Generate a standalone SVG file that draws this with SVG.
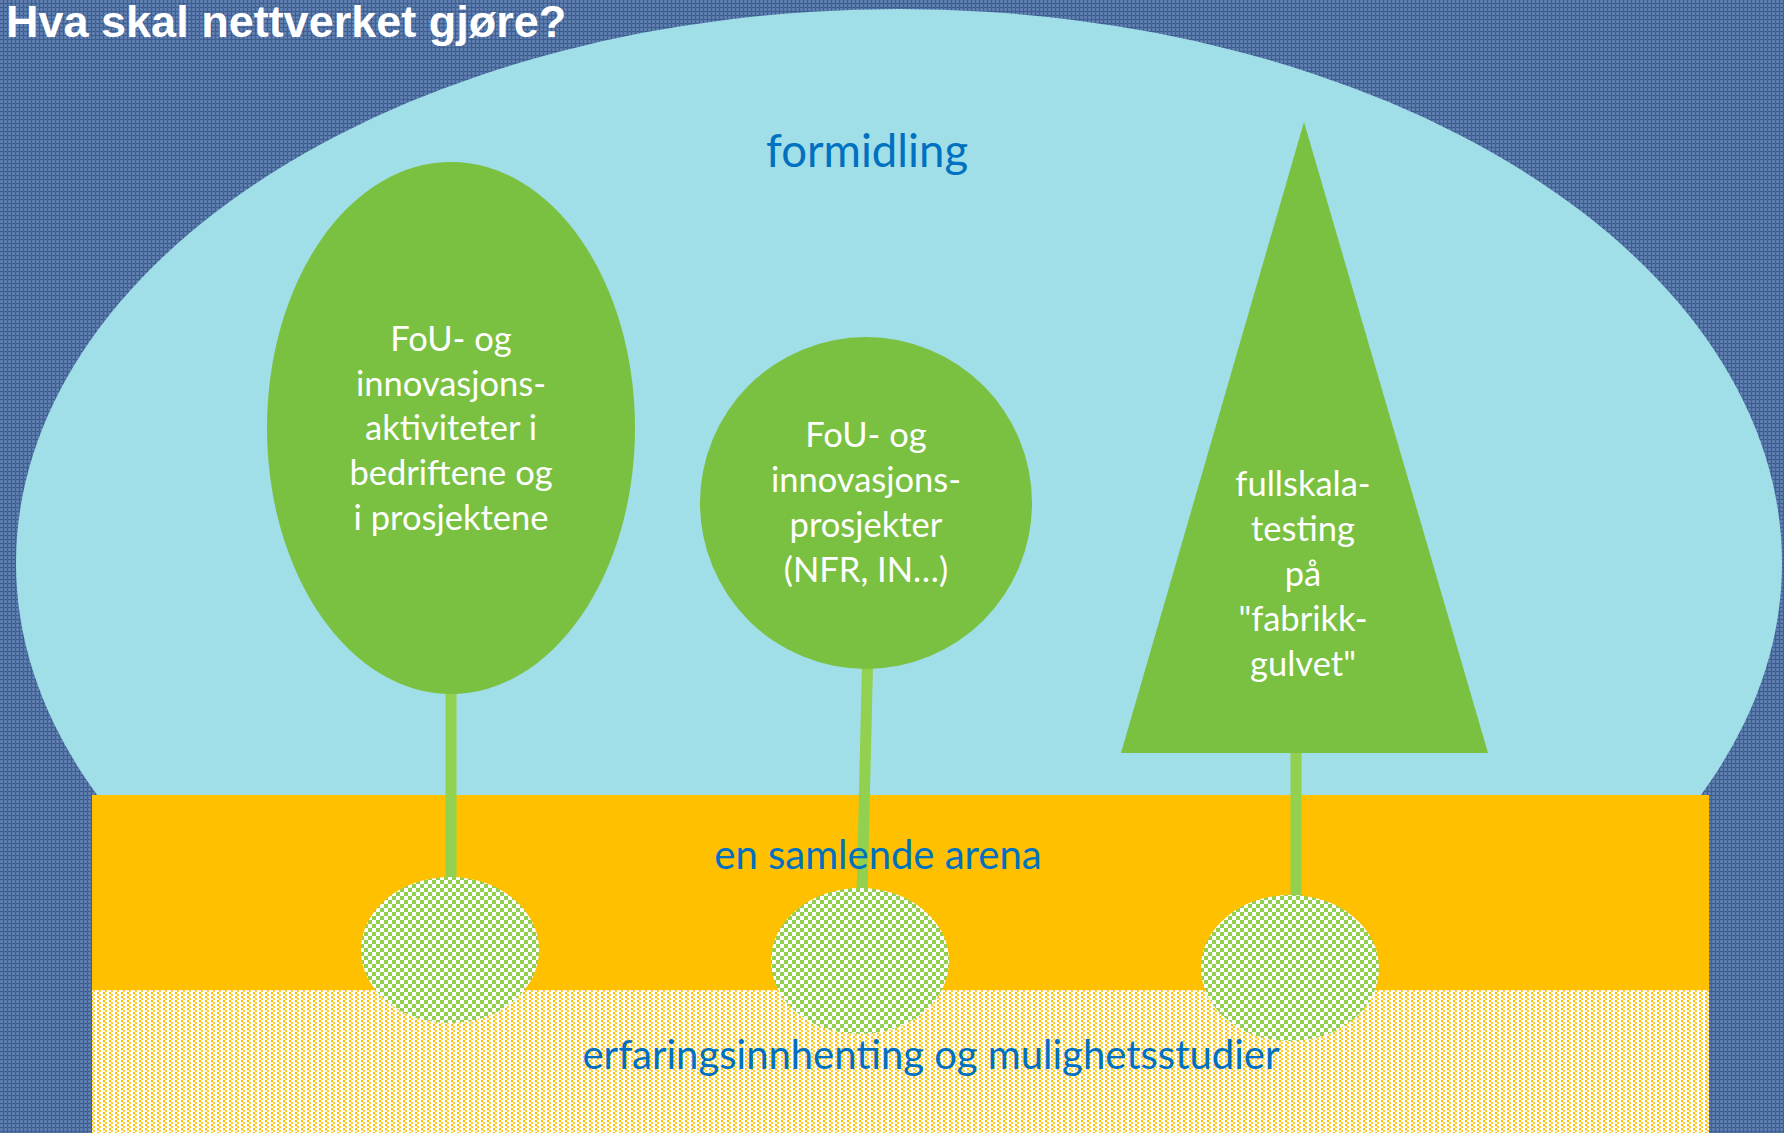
<svg xmlns="http://www.w3.org/2000/svg" width="1784" height="1133" viewBox="0 0 1784 1133">
<defs>
<pattern id="bgp" width="4" height="4" patternUnits="userSpaceOnUse">
<rect width="4" height="4" fill="#5a7aab"/>
<rect x="0" y="3" width="4" height="1" fill="#3f5f90"/>
<rect x="3" y="0" width="1" height="4" fill="#3f5f90"/>
<rect x="1" y="1" width="1" height="1" fill="#6d8cbb"/>
</pattern>
<pattern id="checker" width="8" height="8" patternUnits="userSpaceOnUse">
<rect width="8" height="8" fill="#ffffff"/>
<rect x="0" y="0" width="4" height="4" fill="#92d050"/>
<rect x="4" y="4" width="4" height="4" fill="#92d050"/>
</pattern>
<pattern id="dots" width="6" height="4" patternUnits="userSpaceOnUse">
<rect width="6" height="4" fill="#ffffff"/>
<rect x="1" y="0" width="2" height="2" fill="#ffc000"/>
<rect x="3" y="2" width="2" height="2" fill="#ffc000" opacity="0.8"/>
<rect x="1" y="2" width="2" height="1" fill="#ffc000" opacity="0.35"/>
</pattern>
<clipPath id="topclip"><rect x="0" y="0" width="1784" height="795"/></clipPath>
<style>
.lbl{font-family:Lato,"Open Sans","Liberation Sans",sans-serif;fill:#0070c0;text-anchor:middle}
.tree{font-family:Lato,"Open Sans","Liberation Sans",sans-serif;fill:#ffffff;text-anchor:middle;font-size:34.5px}
.stem{stroke:#92d050;stroke-width:11;fill:none}
.leaf{fill:#7ac142}
.root{fill:url(#checker)}
</style>
</defs>
<rect width="1784" height="1133" fill="url(#bgp)"/>
<g id="title"><text x="6" y="37" font-family="Liberation Sans,Arial,sans-serif" font-weight="bold" font-size="45" fill="#ffffff">Hva skal nettverket gjøre?</text></g>
<g id="formidling">
<ellipse cx="899" cy="563" rx="883" ry="554" fill="#a0dee8" clip-path="url(#topclip)"/>
<text class="lbl" x="867" y="167" font-size="45.5">formidling</text>
</g>
<g id="arena">
<rect x="92" y="795" width="1617" height="195" fill="#ffc000"/>
</g>
<g id="erfaring">
<rect x="92" y="990" width="1617" height="143" fill="url(#dots)"/>
</g>
<g id="connectors">
<line class="stem" x1="451" y1="690" x2="451" y2="890"/>
<line class="stem" x1="867.5" y1="665" x2="862" y2="895"/>
<line class="stem" x1="1296" y1="750" x2="1296" y2="900"/>
</g>
<g id="tree1">
<ellipse class="leaf" cx="451" cy="428" rx="184" ry="266"/>
<text class="tree" x="451" y="351">FoU- og</text>
<text class="tree" x="451" y="396">innovasjons-</text>
<text class="tree" x="451" y="440">aktiviteter i</text>
<text class="tree" x="451" y="485">bedriftene og</text>
<text class="tree" x="451" y="530">i prosjektene</text>
</g>
<g id="tree2">
<circle class="leaf" cx="866" cy="503" r="166"/>
<text class="tree" x="866" y="447">FoU- og</text>
<text class="tree" x="866" y="492">innovasjons-</text>
<text class="tree" x="866" y="537">prosjekter</text>
<text class="tree" x="866" y="582">(NFR, IN…)</text>
</g>
<g id="tree3">
<polygon class="leaf" points="1304,122 1488,753 1121,753"/>
<text class="tree" x="1303" y="496">fullskala-</text>
<text class="tree" x="1303" y="541">testing</text>
<text class="tree" x="1303" y="586">på</text>
<text class="tree" x="1303" y="631">"fabrikk-</text>
<text class="tree" x="1303" y="676">gulvet"</text>
</g>
<g id="root1"><ellipse class="root" cx="450" cy="950" rx="89" ry="73"/></g>
<g id="root2"><ellipse class="root" cx="860" cy="961" rx="89" ry="73"/></g>
<g id="root3"><ellipse class="root" cx="1290" cy="968" rx="89" ry="73"/></g>
<g id="labels">
<text class="lbl" x="878" y="869" font-size="40">en samlende arena</text>
<text class="lbl" x="931" y="1069" font-size="40">erfaringsinnhenting og mulighetsstudier</text>
</g>
</svg>
